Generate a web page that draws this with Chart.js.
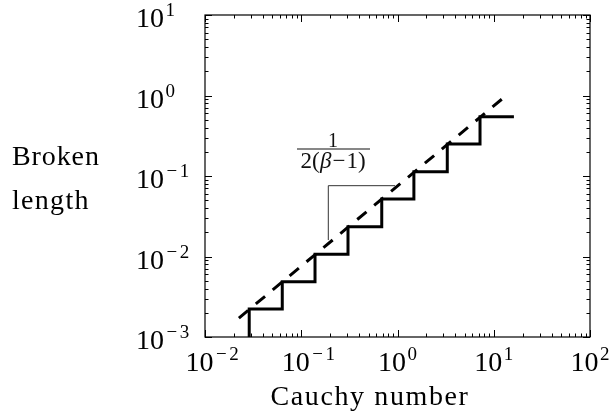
<!DOCTYPE html>
<html>
<head>
<meta charset="utf-8">
<script src="https://cdn.jsdelivr.net/npm/chart.js@4"></script>
<style>
  html, body { margin: 0; padding: 0; background: #fff; }
  #wrap { width: 614px; height: 416px; }
</style>
</head>
<body>
<div id="wrap"><canvas id="c" width="614" height="416"></canvas></div>
<script>
// Staircase: broken length vs Cauchy number
const stepX = [0.0288, 0.0635, 0.139, 0.306, 0.686, 1.48, 3.29, 7.2, 16.2];
const stepY = [0.001, 0.00223, 0.00486, 0.0107, 0.0234, 0.0518, 0.113, 0.25, 0.546];
// Power-law trend (dashed)
const trendX = [0.0225, 12.2];
const trendY = [0.00172, 0.905];
// Slope guide (thin corner line)
const guideX = [0.191, 0.191, 0.942];
const guideY = [0.016, 0.0758, 0.0758];
// Axis decades (exponents of ten)
const xDecades = [-2, -1, 0, 1, 2];
const yDecades = [-3, -2, -1, 0, 1];
const xTitle = 'Cauchy number';
const yTitle = ['Broken', 'length'];

const toPts = (xs, ys) => xs.map((x, i) => ({ x, y: ys[i] }));
const SERIF = "'Liberation Serif', 'DejaVu Serif', serif";

// "10" followed by a raised exponent; returns nothing, draws at left/baseline
function drawPower(ctx, exp, left, baseline) {
  ctx.font = '28px ' + SERIF;
  ctx.textAlign = 'left';
  ctx.textBaseline = 'alphabetic';
  ctx.fillText('10', left, baseline);
  let x = left + ctx.measureText('10').width + 1.5;
  ctx.font = '19px ' + SERIF;
  if (exp < 0) {
    ctx.fillText('\u2212', x + 1, baseline - 11);
    x += ctx.measureText('\u2212').width + 3.5;
  }
  ctx.fillText(String(Math.abs(exp)), x, baseline - 11);
}

function spaced(ctx, text, x, y, spacing) {
  ctx.letterSpacing = spacing + 'px';
  ctx.fillText(text, x, y);
  ctx.letterSpacing = '0px';
}

const framePlugin = {
  id: 'frame',
  afterDatasetsDraw(chart) {
    const { ctx, chartArea: a, scales } = chart;
    const xs = scales.x, ys = scales.y;
    ctx.save();
    ctx.strokeStyle = '#000';
    ctx.fillStyle = '#000';
    // frame
    ctx.lineWidth = 1.2;
    ctx.strokeRect(a.left, a.top, a.right - a.left, a.bottom - a.top);
    // inward ticks on all four sides
    ctx.lineWidth = 1;
    ctx.beginPath();
    for (let k = xDecades[0]; k <= xDecades[xDecades.length - 1]; k++) {
      for (let m = 1; m <= 9; m++) {
        const v = m * Math.pow(10, k);
        if (v > xs.max * 1.0001) continue;
        const px = Math.round(xs.getPixelForValue(v)) + 0.5;
        const len = m === 1 ? 7 : 3.5;
        ctx.moveTo(px, a.bottom); ctx.lineTo(px, a.bottom - len);
        ctx.moveTo(px, a.top); ctx.lineTo(px, a.top + len);
      }
    }
    for (let k = yDecades[0]; k <= yDecades[yDecades.length - 1]; k++) {
      for (let m = 1; m <= 9; m++) {
        const v = m * Math.pow(10, k);
        if (v > ys.max * 1.0001) continue;
        const py = Math.round(ys.getPixelForValue(v)) + 0.5;
        const len = m === 1 ? 7 : 3.5;
        ctx.moveTo(a.left, py); ctx.lineTo(a.left + len, py);
        ctx.moveTo(a.right, py); ctx.lineTo(a.right - len, py);
      }
    }
    ctx.stroke();

    // x tick labels, centred on "10" plus the exponent digit
    xDecades.forEach(k => {
      const px = xs.getPixelForValue(Math.pow(10, k));
      ctx.font = '28px ' + SERIF;
      const w10 = ctx.measureText('10').width + 1.5;
      ctx.font = '19px ' + SERIF;
      const wd = ctx.measureText(String(Math.abs(k))).width;
      drawPower(ctx, k, px - (w10 + wd) / 2, a.bottom + 34);
    });
    // y tick labels, left aligned
    yDecades.forEach(k => {
      const py = ys.getPixelForValue(Math.pow(10, k));
      drawPower(ctx, k, 136, py + 12);
    });

    // axis titles
    ctx.font = '28px ' + SERIF;
    ctx.textAlign = 'center';
    spaced(ctx, xTitle, 370, 405, 1.6);
    ctx.textAlign = 'left';
    spaced(ctx, yTitle[0], 12, 165, 0.9);
    spaced(ctx, yTitle[1], 12, 209, 1.3);

    // slope label 1 / 2(beta-1)
    const cx = 333;
    ctx.fillStyle = '#111';
    ctx.textAlign = 'center';
    ctx.font = '20px ' + SERIF;
    ctx.fillText('1', cx, 147);
    ctx.fillRect(297, 148.5, 73, 1);
    ctx.textAlign = 'left';
    const parts = [
      { t: '2(', f: '23px ' + SERIF, gap: 0 },
      { t: '\u03B2', f: 'italic 23px ' + SERIF, gap: 0.5 },
      { t: '\u2212', f: '23px ' + SERIF, gap: 1 },
      { t: '1)', f: '23px ' + SERIF, gap: 1 }
    ];
    let total = 0;
    parts.forEach(p => { ctx.font = p.f; p.w = ctx.measureText(p.t).width; total += p.w + p.gap; });
    let x = cx - total / 2;
    parts.forEach(p => { x += p.gap; ctx.font = p.f; ctx.fillText(p.t, x, 168); x += p.w; });
    ctx.restore();
  }
};

new Chart(document.getElementById('c'), {
  type: 'line',
  data: {
    datasets: [
      {
        data: toPts(stepX, stepY),
        stepped: 'after',
        borderColor: '#000',
        borderWidth: 3,
        pointRadius: 0,
        fill: false
      },
      {
        data: toPts(trendX, trendY),
        borderColor: '#000',
        borderWidth: 3,
        borderDash: [12, 10],
        borderCapStyle: 'butt',
        pointRadius: 0,
        fill: false
      },
      {
        data: toPts(guideX, guideY),
        borderColor: '#333',
        borderWidth: 1,
        pointRadius: 0,
        fill: false
      }
    ]
  },
  options: {
    responsive: false,
    animation: false,
    devicePixelRatio: 1,
    layout: { padding: { left: 205, top: 15, right: 24, bottom: 79 } },
    plugins: { legend: { display: false }, tooltip: { enabled: false } },
    scales: {
      x: { type: 'logarithmic', min: 0.01, max: 100, display: false },
      y: { type: 'logarithmic', min: 0.001, max: 10, display: false }
    }
  },
  plugins: [framePlugin]
});
</script>
</body>
</html>
